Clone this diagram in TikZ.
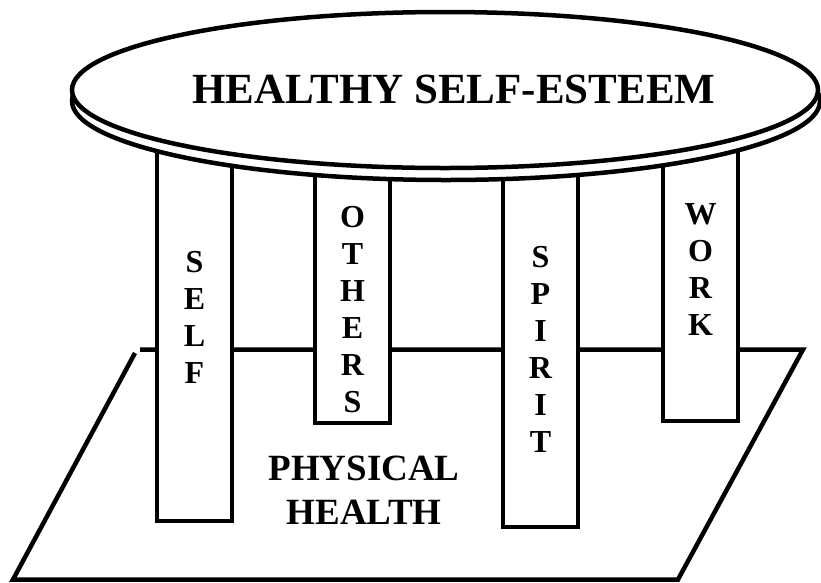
\documentclass[tikz,border=0pt]{standalone}
\usepackage{fontspec}
\setmainfont{Liberation Serif}
\usetikzlibrary{shapes.geometric}

\begin{document}
\begin{tikzpicture}[x=1pt,y=-1pt,line width=4.5pt,
  pillar/.style={draw,fill=white,inner sep=0pt,minimum width=75pt,anchor=south},
  pletters/.style={align=center,inner sep=0pt,font=\fontsize{32}{37}\selectfont\bfseries},
  tablerim/.style={draw,fill=white,ellipse,inner sep=0pt,line width=4.5pt,
                   minimum width=748pt,minimum height=158pt},
  tabletop/.style={tablerim,minimum width=746pt,minimum height=156pt},
  heading/.style={inner sep=0pt,font=\fontsize{43}{50}\selectfont\bfseries}]
  \useasboundingbox (0,0) rectangle (821,582);
  % the floor
  \coordinate (fl1) at (135,353);
  \coordinate (fl2) at (13,579.5);
  \coordinate (fl3) at (678,579.5);
  \coordinate (fl4) at (803,349.5);
  \coordinate (fl5) at (140,349.5);
  \draw (fl1) -- (fl2) -- (fl3) -- (fl4) -- (fl5);
  \node[align=center,inner sep=0pt,font=\fontsize{37}{44}\selectfont\bfseries]
    (health) at (364,490) {PHYSICAL\\HEALTH};
  % the pillars
  \node[pillar,minimum height=383pt] (self) at (194.5,523) {};
  \node[pillar,minimum height=285pt] (others) at (352.5,425) {};
  \node[pillar,minimum height=389pt] (spirit) at (540.5,529) {};
  \node[pillar,minimum height=283pt] (work) at (700.5,423) {};
  \node[pletters] (selft) at (194.5,317) {S\\E\\L\\F};
  \node[pletters] (otherst) at (352.5,310) {O\\T\\H\\E\\R\\S};
  \node[pletters] (spiritt) at (540.5,349) {S\\P\\I\\R\\I\\T};
  \node[pletters] (workt) at (700.5,270) {W\\O\\R\\K};
  % the table top
  \node[tablerim] (rim) at (446,101) {};
  \node[tabletop] (top) at (445,90) {};
  \node[heading] (title) at (454,89) {HEALTHY SELF-ESTEEM};
\end{tikzpicture}
\end{document}
